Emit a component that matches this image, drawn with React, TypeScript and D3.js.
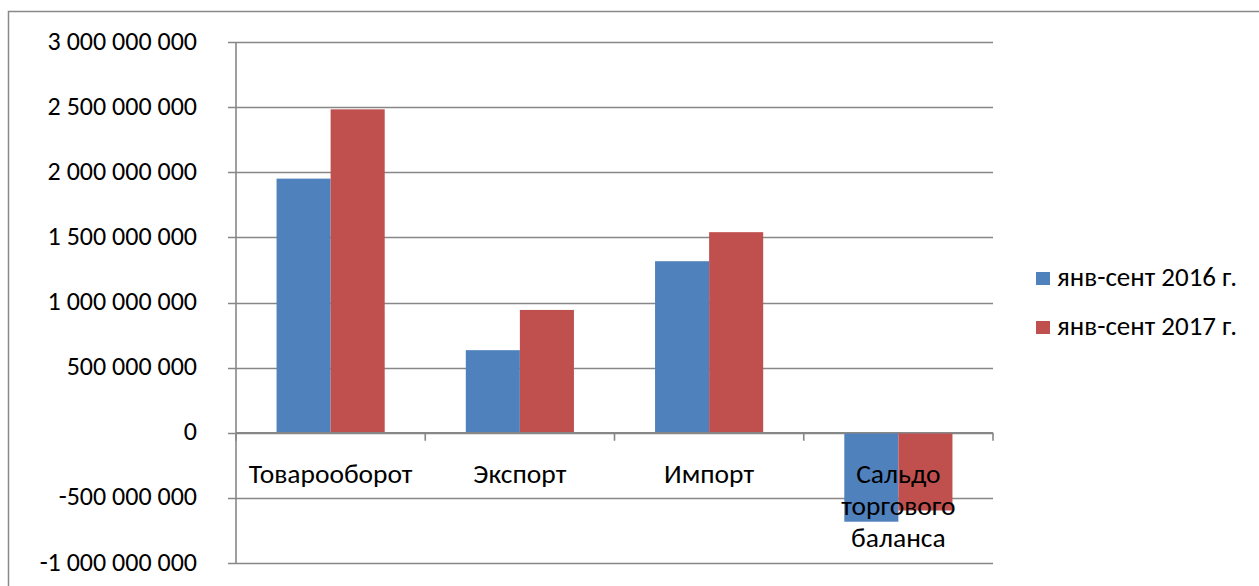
import React from "react";
import * as d3 from "d3";

const categories: string[][] = [["Товарооборот"], ["Экспорт"], ["Импорт"], ["Сальдо", "торгового", "баланса"]];
const series2016: number[] = [1951e6, 634e6, 1317e6, -683e6];
const series2017: number[] = [2483e6, 943e6, 1540e6, -597e6];
const seriesNames: string[] = ["янв-сент 2016 г.", "янв-сент 2017 г."];
const seriesColors: string[] = ["#4f81bd", "#c0504d"];
const yTicks: number[] = [-1e9, -5e8, 0, 5e8, 1e9, 1.5e9, 2e9, 2.5e9, 3e9];

const W = 1259;
const H = 586;
const left = 236;
const right = 993;
const top = 42;
const bottom = 563;
const FONT = "Carlito, Calibri, 'Liberation Sans', Arial, sans-serif";
const grid = "#878787";

function fmt(v: number): string {
  const s = Math.abs(v).toString().replace(/\B(?=(\d{3})+(?!\d))/g, " ");
  return (v < 0 ? "-" : "") + s;
}

export default function App() {
  const y = d3.scaleLinear().domain([-1e9, 3e9]).range([bottom, top]);
  const x = d3.scaleBand<number>().domain(d3.range(categories.length)).range([left, right]).paddingInner(0).paddingOuter(0);
  const bw = x.bandwidth();
  const barW = bw / 3.5;
  const inner = d3.scaleBand<number>().domain([0, 1]).range([0, barW * 2]);
  const data = [series2016, series2017];
  const y0 = y(0);

  return (
    <svg width={W} height={H} style={{ position: "absolute", left: 0, top: 0, background: "#fff" }}>
      <rect x={8.5} y={11.5} width={W + 20} height={H + 20} fill="#fff" stroke="#898989" strokeWidth={1.5} />
      {yTicks.map((t) => (
        <g key={t}>
          <line x1={left - 8} x2={right} y1={Math.round(y(t)) + 0.5} y2={Math.round(y(t)) + 0.5} stroke={grid} strokeWidth={1.6} />
          <text x={197} y={y(t) + 7.5} textAnchor="end" fontFamily={FONT} fontSize={26} fill="#000">
            {fmt(t)}
          </text>
        </g>
      ))}
      <line x1={left} x2={left} y1={top} y2={bottom} stroke={grid} strokeWidth={1.6} />
      {data.map((ser, si) =>
        ser.map((v, ci) => {
          const bx = (x(ci) as number) + (bw - barW * 2) / 2 + (inner(si) as number);
          return (
            <rect
              key={`${si}-${ci}`}
              x={bx}
              width={barW}
              y={Math.min(y(v), y0)}
              height={Math.abs(y(v) - y0)}
              fill={seriesColors[si]}
            />
          );
        })
      )}
      <line x1={left} x2={right} y1={y0} y2={y0} stroke={grid} strokeWidth={1.6} />
      {d3.range(categories.length + 1).map((i) => {
        const tx = left + i * bw;
        return <line key={i} x1={tx} x2={tx} y1={y0} y2={y0 + 8} stroke={grid} strokeWidth={1.6} />;
      })}
      {categories.map((lines, ci) => (
        <text key={ci} x={(x(ci) as number) + bw / 2} y={y0 + 50} textAnchor="middle" fontFamily={FONT} fontSize={27.5} fill="#000">
          {lines.map((l, li) => (
            <tspan key={li} x={(x(ci) as number) + bw / 2} dy={li === 0 ? 0 : 32}>
              {l}
            </tspan>
          ))}
        </text>
      ))}
      {seriesNames.map((n, i) => {
        const base = 286 + i * 49;
        return (
          <g key={n}>
            <rect x={1036} y={base - 14} width={14} height={13} fill={seriesColors[i]} />
            <text x={1057} y={base} fontFamily={FONT} fontSize={27} fill="#000">
              {n}
            </text>
          </g>
        );
      })}
    </svg>
  );
}
